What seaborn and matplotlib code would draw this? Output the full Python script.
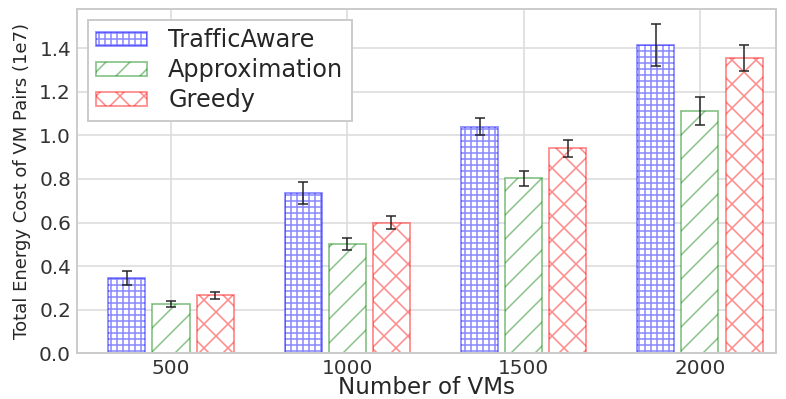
import numpy as np
import pandas as pd
import matplotlib
matplotlib.use("Agg")
import matplotlib.pyplot as plt
import matplotlib.patches as mpatches
from matplotlib.colors import to_rgba
import seaborn as sns

# Data (energy cost in units of 1e7)
vm_counts = ["500", "1000", "1500", "2000"]
methods = ["TrafficAware", "Approximation", "Greedy"]
traffic_aware = [0.345, 0.737, 1.04, 1.415]
traffic_aware_err = [0.03, 0.05, 0.04, 0.095]
approximation = [0.225, 0.50, 0.803, 1.113]
approximation_err = [0.015, 0.027, 0.035, 0.063]
greedy = [0.265, 0.598, 0.94, 1.357]
greedy_err = [0.017, 0.03, 0.037, 0.06]

values = [traffic_aware, approximation, greedy]
errors = [traffic_aware_err, approximation_err, greedy_err]
colors = ["#0000ff", "#008000", "#ff0000"]
hatches = ["++++", "//", "xx"]

df = pd.DataFrame({
    "vms": vm_counts * 3,
    "method": np.repeat(methods, len(vm_counts)),
    "cost": np.concatenate(values),
})

sns.set_style("whitegrid")
plt.rcParams["font.family"] = ["DejaVu Sans"]
plt.rcParams["hatch.linewidth"] = 0.8

dpi = 144
fig = plt.figure(figsize=(786 / dpi, 399 / dpi), dpi=dpi)
ax = fig.add_axes([0.098, 0.115, 0.889, 0.862])

sns.barplot(data=df, x="vms", y="cost", hue="method", order=vm_counts,
            hue_order=methods, width=0.75, gap=0.16, errorbar=None,
            legend=False, ax=ax)

handles = []
for container, col, hat, err in zip(ax.containers, colors, hatches, errors):
    edge = to_rgba(col, 0.45)
    xs, ys = [], []
    for bar in container:
        bar.set_facecolor("white")
        bar.set_edgecolor(edge)
        bar.set_hatch(hat)
        bar.set_linewidth(0.9)
        xs.append(bar.get_x() + bar.get_width() / 2)
        ys.append(bar.get_height())
    ax.errorbar(xs, ys, yerr=err, fmt="none", ecolor="#222222", alpha=0.75,
                elinewidth=1.0, capsize=2.5, capthick=1.0, zorder=5)
    handles.append(mpatches.Patch(facecolor="white", edgecolor=edge, hatch=hat,
                                  linewidth=0.9))

ax.set_xlim(-0.533, 3.43)
ax.set_ylim(0, 1.58)
ax.set_yticks(np.arange(0, 1.41, 0.2))
ax.tick_params(axis="both", labelsize=10, colors="#333333", length=0, pad=3)
ax.set_xlabel("Number of VMs", fontsize=11.5, color="#262626", labelpad=-1)
ax.set_ylabel("Total Energy Cost of VM Pairs (1e7)", fontsize=9, color="#262626", labelpad=4)
ax.grid(True, axis="both", color="#dcdcdc", linewidth=0.8)
ax.set_axisbelow(True)
for s in ax.spines.values():
    s.set_color("#cccccc")
    s.set_linewidth(1.0)

ax.legend(handles, methods, loc="upper left", fontsize=12, frameon=True,
          edgecolor="#cccccc", framealpha=1.0, fancybox=False,
          labelspacing=0.25, borderpad=0.35, handleheight=0.5,
          handlelength=2.1, handletextpad=0.9, borderaxespad=0.45)

fig.savefig("out.png", dpi=dpi)
